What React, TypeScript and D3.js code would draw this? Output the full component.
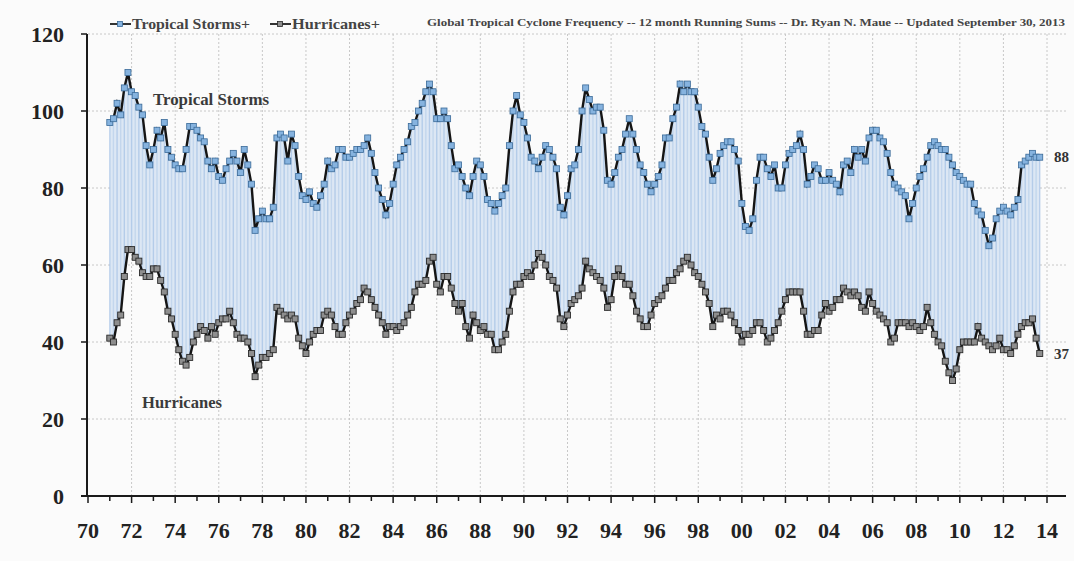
import * as d3 from 'd3';

// 12-month running sums, sampled every 2 months starting Jan 1971 (last = Sep 2013)
const startYear = 1971;
const stepMonths = 2;

const tropicalStorms = [
  97, 98, 102, 99, 106, 110,
  105, 104, 101, 99, 91, 86,
  90, 95, 93, 97, 90, 88,
  86, 85, 85, 90, 96, 96,
  95, 93, 92, 87, 85, 87,
  83, 82, 85, 87, 89, 87,
  84, 90, 86, 81, 69, 72,
  74, 72, 72, 75, 93, 94,
  93, 87, 94, 91, 83, 78,
  77, 79, 76, 75, 78, 81,
  87, 85, 86, 90, 90, 88,
  88, 89, 90, 90, 91, 93,
  89, 84, 80, 77, 73, 76,
  81, 86, 88, 90, 92, 96,
  97, 100, 102, 105, 107, 105,
  98, 98, 100, 98, 91, 85,
  86, 83, 80, 78, 83, 87,
  86, 83, 77, 76, 74, 76,
  78, 80, 91, 100, 104, 99,
  97, 93, 88, 87, 85, 88,
  91, 90, 88, 85, 75, 73,
  78, 85, 86, 90, 100, 106,
  103, 100, 101, 101, 95, 82,
  81, 84, 88, 90, 94, 98,
  94, 90, 86, 84, 81, 79,
  81, 83, 86, 93, 93, 98,
  101, 107, 105, 107, 105, 105,
  101, 96, 94, 88, 82, 85,
  89, 91, 92, 92, 90, 87,
  76, 70, 69, 72, 82, 88,
  88, 85, 83, 86, 80, 80,
  86, 89, 90, 91, 94, 90,
  81, 83, 86, 85, 82, 82,
  84, 82, 81, 79, 86, 87,
  84, 90, 88, 90, 87, 93,
  95, 95, 93, 92, 89, 84,
  81, 80, 79, 78, 72, 76,
  80, 83, 85, 88, 91, 92,
  91, 90, 90, 88, 86, 84,
  83, 82, 81, 81, 76, 74,
  73, 69, 65, 67, 72, 74,
  75, 74, 73, 75, 77, 86,
  87, 88, 89, 88, 88,
];

const hurricanes = [
  41, 40, 45, 47, 57, 64,
  64, 62, 61, 58, 57, 57,
  59, 59, 56, 53, 48, 46,
  42, 38, 35, 34, 36, 40,
  42, 44, 43, 41, 44, 42,
  45, 46, 46, 48, 45, 42,
  41, 41, 40, 37, 31, 34,
  36, 36, 37, 38, 49, 48,
  47, 46, 47, 46, 41, 39,
  37, 40, 42, 43, 43, 47,
  48, 47, 44, 42, 42, 45,
  47, 48, 50, 51, 54, 53,
  51, 49, 47, 45, 42, 44,
  44, 43, 44, 45, 47, 49,
  53, 55, 55, 56, 61, 62,
  55, 53, 57, 57, 54, 50,
  48, 50, 44, 41, 47, 45,
  43, 44, 42, 42, 38, 38,
  40, 42, 48, 53, 55, 55,
  57, 58, 57, 60, 63, 62,
  60, 57, 56, 54, 46, 44,
  47, 50, 51, 52, 54, 61,
  59, 58, 57, 56, 54, 49,
  51, 57, 59, 57, 55, 55,
  52, 48, 46, 44, 44, 47,
  50, 51, 52, 54, 56, 56,
  58, 59, 61, 62, 60, 58,
  57, 55, 53, 50, 44, 47,
  46, 48, 48, 47, 45, 43,
  40, 42, 42, 43, 45, 45,
  43, 40, 41, 43, 45, 48,
  51, 53, 53, 53, 53, 48,
  42, 42, 43, 43, 47, 50,
  48, 49, 51, 51, 54, 53,
  52, 53, 52, 49, 48, 53,
  50, 48, 47, 46, 45, 40,
  41, 45, 45, 45, 44, 45,
  44, 43, 44, 49, 45, 42,
  40, 39, 35, 32, 30, 33,
  38, 40, 40, 40, 40, 44,
  41, 40, 39, 38, 39, 41,
  38, 38, 37, 39, 42, 44,
  45, 45, 46, 41, 37,
];

const xTickYears = d3.range(1970, 2015, 2);
const yTicks = [0, 20, 40, 60, 80, 100, 120];
const legendLabels = ['Tropical Storms+', 'Hurricanes+'];
const title =
  'Global Tropical Cyclone Frequency -- 12 month Running Sums -- Dr. Ryan N. Maue -- Updated September 30, 2013';

const W = 1074;
const H = 561;
const FONT = '"Liberation Serif", "DejaVu Serif", serif';

const x = d3.scaleLinear().domain([1970, 2014]).range([88, 1047]);
const y = d3.scaleLinear().domain([0, 120]).range([496, 34]);

const data = tropicalStorms.map((ts, i) => ({
  t: startYear + (i * stepMonths) / 12,
  ts,
  hu: hurricanes[i],
}));

const tsLine = d3.line<(typeof data)[0]>().x((d) => x(d.t)).y((d) => y(d.ts));
const huLine = d3.line<(typeof data)[0]>().x((d) => x(d.t)).y((d) => y(d.hu));
const band = d3
  .area<(typeof data)[0]>()
  .x((d) => x(d.t))
  .y0((d) => y(d.hu))
  .y1((d) => y(d.ts));

const fmtYear = (yr: number) => String(yr % 100).padStart(2, '0');
const MS = 6; // marker size

export default function App() {
  const last = data[data.length - 1];
  const axisRight = 1066;
  return (
    <svg
      width={W}
      height={H}
      style={{ position: 'absolute', left: 0, top: 0, background: '#fbfbfb' }}
      fontFamily={FONT}
    >
      <defs>
        <filter id="soft" x="-5%" y="-5%" width="110%" height="110%">
          <feGaussianBlur stdDeviation="0.7" />
        </filter>
      </defs>
      <rect width={W} height={H} fill="#fbfbfb" />

      {/* grid */}
      {yTicks.filter((v) => v > 0).map((v) => (
        <line key={'gy' + v} x1={x(1970)} x2={axisRight} y1={y(v)} y2={y(v)}
          stroke="#c8c8c8" strokeDasharray="2,2" strokeWidth={1} />
      ))}
      {xTickYears.filter((v) => v > 1970).map((v) => (
        <line key={'gx' + v} x1={x(v)} x2={x(v)} y1={y(120)} y2={y(0)}
          stroke="#c8c8c8" strokeDasharray="2,2" strokeWidth={1} />
      ))}

      {/* band between series */}
      <path d={band(data) ?? ''} fill="#dce7f4" />
      <g filter="url(#soft)">
        {data.map((d, i) => (
          <line key={'dl' + i} x1={x(d.t)} x2={x(d.t)} y1={y(d.hu)} y2={y(d.ts)}
            stroke="#93b7e0" strokeOpacity={i % 2 === 0 ? 0.55 : 0.35} strokeWidth={1.4} />
        ))}
      </g>

      {/* lines */}
      <path d={tsLine(data) ?? ''} fill="none" stroke="#151515" strokeWidth={2.4} />
      <path d={huLine(data) ?? ''} fill="none" stroke="#151515" strokeWidth={2.4} />

      {/* markers */}
      {data.map((d, i) => (
        <rect key={'mt' + i} x={x(d.t) - MS / 2} y={y(d.ts) - MS / 2} width={MS} height={MS}
          fill="#86b3df" stroke="#3a6a98" strokeWidth={0.8} />
      ))}
      {data.map((d, i) => (
        <rect key={'mh' + i} x={x(d.t) - MS / 2} y={y(d.hu) - MS / 2} width={MS} height={MS}
          fill="#8e8e8e" stroke="#2a2a2a" strokeWidth={0.9} />
      ))}

      {/* axes */}
      <line x1={87} x2={87} y1={y(120)} y2={y(0)} stroke="#1a1a1a" strokeWidth={2} />
      {yTicks.map((v) => (
        <g key={'yt' + v}>
          <line x1={81} x2={87} y1={y(v)} y2={y(v)} stroke="#1a1a1a" strokeWidth={1.5} />
          <text x={64} y={y(v)} dy="0.35em" textAnchor="end" fontSize={22}
            fontWeight="bold" fill="#222">{v}</text>
        </g>
      ))}
      <line x1={81} x2={axisRight} y1={y(0)} y2={y(0)} stroke="#1a1a1a" strokeWidth={2} />
      {d3.range(1970, 2015).map((yr) => (
        <line key={'xt' + yr} x1={x(yr)} x2={x(yr)} y1={y(0)}
          y2={y(0) + (yr % 2 === 0 ? 7 : 5)} stroke="#1a1a1a" strokeWidth={1.5} />
      ))}
      {xTickYears.map((yr) => (
        <text key={'xl' + yr} x={x(yr)} y={538} textAnchor="middle" fontSize={22}
          fontWeight="bold" fill="#222">{fmtYear(yr)}</text>
      ))}

      {/* legend */}
      <line x1={110} x2={131} y1={24} y2={24} stroke="#333" strokeWidth={2} />
      <rect x={117.5} y={21.5} width={5} height={5} fill="#86b3df" stroke="#3a6a98" strokeWidth={0.8} />
      <text x={132} y={29} fontSize={15} fontWeight="bold" fill="#444"
        textLength={118} lengthAdjust="spacingAndGlyphs">{legendLabels[0]}</text>
      <line x1={270} x2={291} y1={24} y2={24} stroke="#333" strokeWidth={2} />
      <rect x={277.5} y={21.5} width={5} height={5} fill="#8e8e8e" stroke="#2a2a2a" strokeWidth={0.8} />
      <text x={292} y={29} fontSize={15} fontWeight="bold" fill="#444"
        textLength={88} lengthAdjust="spacingAndGlyphs">{legendLabels[1]}</text>
      <text x={427} y={26} fontSize={11} fontWeight="bold" fill="#444"
        textLength={638} lengthAdjust="spacingAndGlyphs">{title}</text>

      {/* series labels */}
      <text x={153} y={105} fontSize={16} fontWeight="bold" fill="#3a3a3a"
        textLength={116} lengthAdjust="spacingAndGlyphs">Tropical Storms</text>
      <text x={142} y={408} fontSize={16} fontWeight="bold" fill="#3a3a3a"
        textLength={80} lengthAdjust="spacingAndGlyphs">Hurricanes</text>

      {/* last values */}
      <text x={1054} y={y(last.ts)} dy="0.35em" fontSize={15} fontWeight="bold" fill="#333">
        {last.ts}
      </text>
      <text x={1054} y={y(last.hu)} dy="0.35em" fontSize={15} fontWeight="bold" fill="#333">
        {last.hu}
      </text>
    </svg>
  );
}
